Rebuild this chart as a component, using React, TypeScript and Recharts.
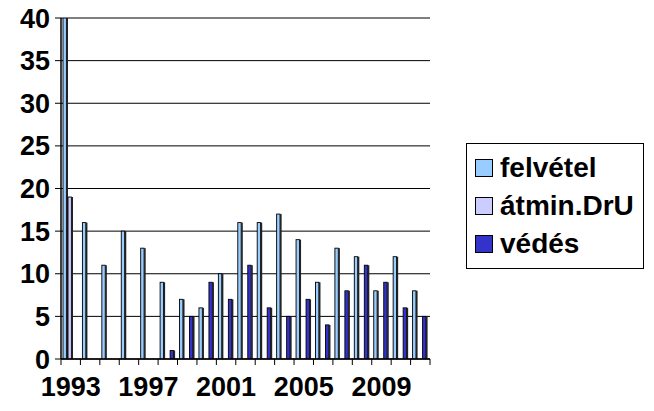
import React from "react"
import { Bar, BarChart, CartesianGrid, XAxis, YAxis } from "recharts"

const years = [
  "1993", "1994", "1995", "1996", "1997", "1998", "1999", "2000", "2001", "2002",
  "2003", "2004", "2005", "2006", "2007", "2008", "2009", "2010", "2011",
]
const felvetel = [40, 16, 11, 15, 13, 9, 7, 6, 10, 16, 16, 17, 14, 9, 13, 12, 8, 12, 8]
const atmin = [19, 0, 0, 0, 0, 0, 0, 0, 0, 0, 0, 0, 0, 0, 0, 0, 0, 0, 0]
const vedes = [0, 0, 0, 0, 0, 1, 5, 9, 7, 11, 6, 5, 7, 4, 8, 11, 9, 6, 5]
const yTicks = [0, 5, 10, 15, 20, 25, 30, 35, 40]

const seriesNames = ["felvétel", "átmin.DrU", "védés"]
const seriesColors = ["#99CCFF", "#CCCCFF", "#3333CC"]

const data = years.map((year, i) => ({
  year,
  felvetel: felvetel[i],
  atmin: atmin[i],
  vedes: vedes[i],
}))

const font = "'Liberation Sans', Arial, sans-serif"

// Excel-ish 3d bar: front face plus a dark right side
const Bar3D = (props: any) => {
  const { x, y, width, height, fill } = props
  if (!height || height <= 0) return null
  const side = 1.6
  return (
    <g>
      <rect x={x} y={y} width={width - side} height={height} fill={fill} stroke="#000" strokeWidth={0.9} />
      <rect x={x + width - side} y={y} width={side} height={height} fill="#222" />
    </g>
  )
}

// tick marks sit between categories, label every 4th year
const YearTick = (props: any) => {
  const { x, y, payload, index } = props
  const half = payload?.offset ?? 9.7
  const isLast = index === years.length - 1
  return (
    <g>
      <line x1={x - half} y1={y} x2={x - half} y2={y + 6} stroke="#000" />
      {isLast && <line x1={x + half} y1={y} x2={x + half} y2={y + 6} stroke="#000" />}
      {index % 4 === 0 && (
        <text x={x} y={y + 37} textAnchor="middle" fontFamily={font} fontWeight="bold" fontSize={27} fill="#000">
          {payload.value}
        </text>
      )}
    </g>
  )
}

export default function App() {
  return (
    <div style={{ position: "absolute", left: 0, top: 0, width: 654, height: 411, background: "#fff" }}>
      <BarChart
        width={654}
        height={411}
        data={data}
        margin={{ top: 18, right: 224, bottom: 12, left: 0 }}
        barCategoryGap={2}
        barGap={0}
      >
        <CartesianGrid vertical={false} stroke="#000" strokeWidth={1} />
        <XAxis
          dataKey="year"
          interval={0}
          tickLine={false}
          tickSize={0}
          tickMargin={0}
          height={40}
          axisLine={{ stroke: "#000", strokeWidth: 1.5 }}
          tick={<YearTick />}
        />
        <YAxis
          domain={[0, 40]}
          ticks={yTicks}
          allowDataOverflow
          width={61}
          tickSize={6}
          tickMargin={5}
          tickLine={{ stroke: "#000" }}
          axisLine={{ stroke: "#000", strokeWidth: 1.5 }}
          tick={{ fill: "#000", fontFamily: font, fontWeight: "bold", fontSize: 27 }}
        />
        <YAxis yAxisId="r" orientation="right" width={0} tick={false} tickLine={false} axisLine={{ stroke: "#000", strokeWidth: 1.5 }} />
        <Bar dataKey="felvetel" name={seriesNames[0]} fill={seriesColors[0]} shape={<Bar3D />} isAnimationActive={false} />
        <Bar dataKey="atmin" name={seriesNames[1]} fill={seriesColors[1]} shape={<Bar3D />} isAnimationActive={false} />
        <Bar dataKey="vedes" name={seriesNames[2]} fill={seriesColors[2]} shape={<Bar3D />} isAnimationActive={false} />
      </BarChart>
      <div
        style={{
          position: "absolute",
          left: 466,
          top: 143,
          width: 178,
          height: 126,
          border: "1px solid #000",
          boxSizing: "border-box",
          fontFamily: font,
          fontWeight: "bold",
          fontSize: 28,
          padding: "5px 0 0 8px",
        }}
      >
        {seriesNames.map((name, i) => (
          <div key={name} style={{ display: "flex", alignItems: "center", height: 38, lineHeight: "38px", whiteSpace: "nowrap" }}>
            <span
              style={{
                display: "inline-block",
                width: 16,
                height: 16,
                background: seriesColors[i],
                border: "1px solid #000",
                marginRight: 7,
                flex: "none",
              }}
            />
            <span>{name}</span>
          </div>
        ))}
      </div>
    </div>
  )
}
